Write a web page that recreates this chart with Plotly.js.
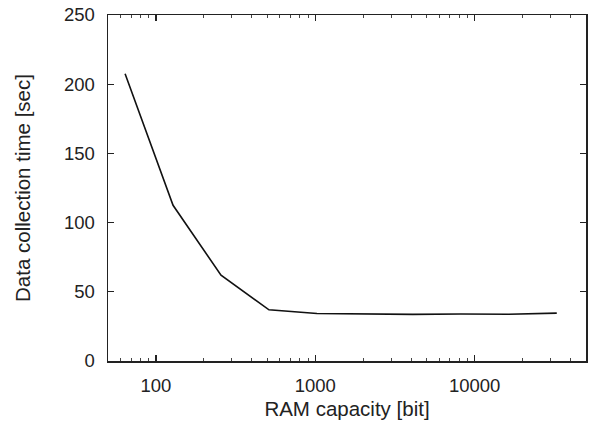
<!DOCTYPE html>
<html>
<head>
<meta charset="utf-8">
<script src="https://cdn.plot.ly/plotly-3.0.1.min.js"></script>
<style>html,body{margin:0;padding:0;background:#fff;}#chart{width:590px;height:426px;}</style>
</head>
<body>
<div id="chart"></div>
<script>
const ramCapacity = [64, 128, 256, 512, 1024, 2048, 4096, 8192, 16384, 32768];
const collectionTime = [207.5, 112.5, 62, 37, 34.3, 34, 33.7, 34, 33.8, 34.6];
const xTickVals = [100, 1000, 10000];
const xTickText = ['100', '1000', '10000'];
const xMinorVals = [50,60,70,80,90,200,300,400,500,600,700,800,900,2000,3000,4000,5000,6000,7000,8000,9000,20000,30000,40000];

const trace = {
  x: ramCapacity,
  y: collectionTime,
  type: 'scatter',
  mode: 'lines',
  line: {color: '#111', width: 1.6},
  hoverinfo: 'skip'
};

const fam = 'Liberation Sans, Arial, sans-serif';
const tickFont = {family: fam, size: 18.5, color: '#222'};
const titleFont = {family: fam, size: 20.5, color: '#222'};

const layout = {
  width: 590,
  height: 426,
  margin: {l: 108, r: 4, t: 15, b: 65},
  paper_bgcolor: '#fff',
  plot_bgcolor: '#fff',
  showlegend: false,
  xaxis: {
    type: 'log',
    range: [Math.log10(50), Math.log10(50000)],
    tickvals: xTickVals,
    ticktext: xTickText,
    ticks: 'inside',
    ticklen: 6,
    tickwidth: 1.2,
    tickcolor: '#222',
    minor: {ticks: 'inside', ticklen: 3, tickwidth: 1, tickcolor: '#444', tickvals: xMinorVals, showgrid: false},
    showline: true,
    linecolor: '#222',
    linewidth: 1.5,
    mirror: 'allticks',
    showgrid: false,
    zeroline: false,
    tickfont: tickFont,
    ticklabelstandoff: 7,
    title: {text: 'RAM capacity [bit]', font: titleFont, standoff: 7}
  },
  yaxis: {
    range: [0, 250],
    dtick: 50,
    ticks: 'inside',
    ticklen: 6,
    tickwidth: 1.2,
    tickcolor: '#222',
    showline: true,
    linecolor: '#222',
    linewidth: 1.5,
    mirror: 'allticks',
    showgrid: false,
    zeroline: false,
    tickfont: tickFont,
    ticklabelstandoff: 8,
    title: {text: 'Data collection time [sec]', font: titleFont, standoff: 27}
  }
};

Plotly.newPlot('chart', [trace], layout, {displayModeBar: false, staticPlot: true});
</script>
</body>
</html>
